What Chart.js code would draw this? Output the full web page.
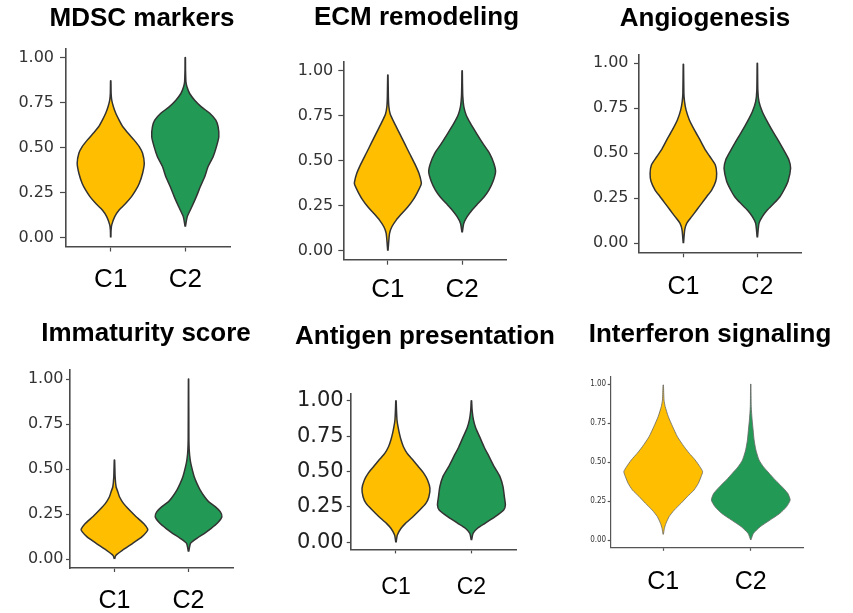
<!DOCTYPE html>
<html>
<head>
<meta charset="utf-8">
<script src="https://cdn.jsdelivr.net/npm/chart.js@4.4.1/dist/chart.umd.min.js"></script>
<style>
  body { margin: 0; background: #fff; width: 853px; height: 613px; position: relative; overflow: hidden; }
  canvas { position: absolute; }
</style>
</head>
<body>
<canvas id="p0"></canvas>
<canvas id="p1"></canvas>
<canvas id="p2"></canvas>
<canvas id="p3"></canvas>
<canvas id="p4"></canvas>
<canvas id="p5"></canvas>
<script>
const titles = ['MDSC markers', 'ECM remodeling', 'Angiogenesis', 'Immaturity score', 'Antigen presentation', 'Interferon signaling'];
const categories = ['C1', 'C2'];
const yTicks = [0, 0.25, 0.5, 0.75, 1];

// violin outlines: [score, relative density], bottom tip to top tip
const mdscC1 = [[0, 0.005], [0.04, 0.01], [0.07, 0.03], [0.116, 0.12], [0.153, 0.25], [0.19, 0.45], [0.227, 0.62], [0.264, 0.75], [0.3, 0.85], [0.357, 0.95], [0.412, 1], [0.468, 0.95], [0.505, 0.85], [0.541, 0.7], [0.579, 0.52], [0.615, 0.36], [0.652, 0.25], [0.69, 0.15], [0.726, 0.08], [0.763, 0.03], [0.8, 0.012], [0.87, 0.005]];
const mdscC2 = [[0.061, 0.005], [0.116, 0.06], [0.172, 0.2], [0.227, 0.33], [0.283, 0.45], [0.338, 0.58], [0.394, 0.68], [0.449, 0.83], [0.505, 0.93], [0.56, 1], [0.615, 0.98], [0.652, 0.91], [0.69, 0.73], [0.726, 0.48], [0.763, 0.28], [0.8, 0.13], [0.837, 0.05], [0.865, 0.02], [0.93, 0.008], [1, 0.005]];
const ecmC1 = [[0, 0.005], [0.096, 0.05], [0.133, 0.12], [0.17, 0.25], [0.207, 0.42], [0.244, 0.6], [0.281, 0.75], [0.319, 0.87], [0.365, 0.99], [0.38, 1], [0.43, 0.93], [0.485, 0.8], [0.54, 0.65], [0.596, 0.5], [0.652, 0.35], [0.707, 0.2], [0.76, 0.07], [0.8, 0.03], [0.856, 0.015], [0.976, 0.005]];
const ecmC2 = [[0.102, 0.005], [0.152, 0.05], [0.189, 0.15], [0.226, 0.3], [0.263, 0.48], [0.3, 0.66], [0.337, 0.8], [0.383, 0.92], [0.439, 1], [0.485, 0.95], [0.541, 0.82], [0.596, 0.62], [0.652, 0.43], [0.707, 0.25], [0.754, 0.12], [0.8, 0.05], [0.856, 0.02], [0.93, 0.01], [1, 0.005]];
const angioC1 = [[0, 0.005], [0.074, 0.04], [0.111, 0.1], [0.148, 0.25], [0.185, 0.4], [0.222, 0.55], [0.259, 0.7], [0.296, 0.85], [0.343, 0.97], [0.389, 1], [0.435, 0.96], [0.481, 0.8], [0.519, 0.66], [0.574, 0.5], [0.63, 0.33], [0.685, 0.18], [0.741, 0.08], [0.787, 0.035], [0.833, 0.015], [0.994, 0.005]];
const angioC2 = [[0.033, 0.005], [0.111, 0.05], [0.148, 0.15], [0.185, 0.3], [0.222, 0.5], [0.259, 0.68], [0.296, 0.8], [0.343, 0.92], [0.417, 1], [0.463, 0.95], [0.509, 0.82], [0.565, 0.65], [0.62, 0.47], [0.676, 0.3], [0.731, 0.15], [0.787, 0.05], [0.852, 0.015], [1, 0.005]];
const immC1 = [[0, 0.005], [0.02, 0.04], [0.05, 0.25], [0.087, 0.55], [0.124, 0.83], [0.152, 0.97], [0.165, 1], [0.198, 0.87], [0.235, 0.65], [0.272, 0.45], [0.309, 0.27], [0.346, 0.15], [0.374, 0.1], [0.4, 0.05], [0.457, 0.02], [0.55, 0.005]];
const immC2 = [[0.041, 0.005], [0.087, 0.06], [0.115, 0.25], [0.143, 0.48], [0.17, 0.68], [0.198, 0.86], [0.235, 1], [0.263, 0.95], [0.291, 0.8], [0.319, 0.6], [0.346, 0.48], [0.383, 0.35], [0.42, 0.25], [0.457, 0.17], [0.513, 0.09], [0.55, 0.05], [0.606, 0.02], [0.68, 0.01], [1, 0.004]];
const antigenC1 = [[0, 0.005], [0.052, 0.04], [0.099, 0.15], [0.134, 0.28], [0.181, 0.5], [0.228, 0.7], [0.275, 0.88], [0.322, 0.97], [0.381, 1], [0.44, 0.93], [0.487, 0.82], [0.534, 0.66], [0.581, 0.5], [0.628, 0.33], [0.675, 0.22], [0.722, 0.15], [0.769, 0.1], [0.816, 0.06], [0.864, 0.03], [0.934, 0.015], [1, 0.005]];
const antigenC2 = [[0.016, 0.005], [0.064, 0.05], [0.099, 0.18], [0.134, 0.4], [0.181, 0.7], [0.228, 0.95], [0.264, 1], [0.322, 0.97], [0.393, 0.93], [0.464, 0.84], [0.534, 0.67], [0.605, 0.52], [0.675, 0.37], [0.746, 0.24], [0.805, 0.13], [0.864, 0.06], [0.934, 0.02], [1, 0.005]];
const ifnC1 = [[0.036, 0.005], [0.075, 0.03], [0.107, 0.07], [0.15, 0.15], [0.192, 0.28], [0.235, 0.45], [0.278, 0.61], [0.32, 0.78], [0.363, 0.89], [0.406, 0.96], [0.438, 1], [0.47, 0.93], [0.513, 0.81], [0.556, 0.66], [0.598, 0.53], [0.662, 0.36], [0.726, 0.24], [0.79, 0.13], [0.855, 0.05], [0.897, 0.02], [0.994, 0.005]];
const ifnC2 = [[0, 0.004], [0.043, 0.07], [0.085, 0.24], [0.128, 0.49], [0.171, 0.74], [0.214, 0.91], [0.256, 1], [0.299, 0.94], [0.342, 0.79], [0.385, 0.62], [0.427, 0.47], [0.47, 0.32], [0.513, 0.21], [0.577, 0.13], [0.641, 0.085], [0.705, 0.06], [0.769, 0.035], [0.855, 0.012], [1, 0.004]];

const violins = [[mdscC1, mdscC2], [ecmC1, ecmC2], [angioC1, angioC2], [immC1, immC2], [antigenC1, antigenC2], [ifnC1, ifnC2]];

const yellow = '#FFBF00';
const green = '#239956';
const halfWidth = 0.45;

// placement of each panel on the page
const frames = [
  {left: 0, top: 0, w: 284, h: 310, yW: 66, rW: 54, tTop: 3.5, tBottom: 13.8, xH: 63.5, xTick: 5, xPad: 13.2, xFont: 26, yTick: 6, yPad: 6, yFont: 16},
  {left: 273, top: 0, w: 287, h: 310, yW: 70.3, rW: 53.3, tTop: 2.5, tBottom: 28, xH: 50.3, xTick: 5, xPad: 9.2, xFont: 26, yTick: 5, yPad: 5, yFont: 16},
  {left: 575, top: 0, w: 260, h: 310, yW: 64, rW: 33.3, tTop: 3.5, tBottom: 19.6, xH: 57.7, xTick: 5, xPad: 15.3, xFont: 25, yTick: 5, yPad: 5.5, yFont: 16},
  {left: 0, top: 300, w: 292, h: 313, yW: 70, rW: 59, tTop: 18.2, tBottom: 20.6, xH: 45, xTick: 4, xPad: 14, xFont: 25, yTick: 4, yPad: 2.5, yFont: 16},
  {left: 290, top: 300, w: 270, h: 313, yW: 60.7, rW: 43.3, tTop: 20.8, tBottom: 41.6, xH: 63.6, xTick: 4, xPad: 20, xFont: 23, yTick: 4, yPad: 3, yFont: 21},
  {left: 567, top: 300, w: 286, h: 313, yW: 43.7, rW: 49.7, tTop: 19.2, tBottom: 25.8, xH: 65.2, xTick: 3, xPad: 16.2, xFont: 25, yTick: 3, yPad: 1.5, yFont: 8}
];

function outline(profile, center) {
  const right = profile.map(([v, d]) => ({x: center + d * halfWidth, y: v}));
  const left = profile.slice().reverse().map(([v, d]) => ({x: center - d * halfWidth, y: v}));
  return right.concat(left);
}

Chart.defaults.font.family = '"Liberation Sans", Arial, sans-serif';

frames.forEach((f, i) => {
  const canvas = document.getElementById('p' + i);
  canvas.width = f.w;
  canvas.height = f.h;
  canvas.style.left = f.left + 'px';
  canvas.style.top = f.top + 'px';

  const last = i === 5;
  const edge = last ? '#666' : '#333';
  const lineW = last ? 0.8 : 1.5;
  const axisColor = last ? '#555' : '#4a4a4a';
  const yFontFamily = last ? '"Liberation Sans Narrow", "DejaVu Sans Condensed", sans-serif' : '"DejaVu Sans", sans-serif';

  const datasets = violins[i].map((profile, k) => ({
    data: outline(profile, k + 1),
    showLine: true,
    fill: 'shape',
    tension: 0.2,
    pointRadius: 0,
    backgroundColor: k === 0 ? yellow : green,
    borderColor: edge,
    borderWidth: lineW
  }));

  new Chart(canvas, {
    type: 'scatter',
    data: {datasets: datasets},
    options: {
      responsive: false,
      animation: false,
      devicePixelRatio: 1,
      layout: {padding: 0},
      plugins: {
        legend: {display: false},
        tooltip: {enabled: false},
        title: {
          display: true,
          text: titles[i],
          color: '#000',
          font: {size: 26, weight: 'bold'},
          padding: {top: f.tTop, bottom: f.tBottom}
        }
      },
      scales: {
        x: {
          type: 'linear',
          min: 0.4,
          max: 2.6,
          afterBuildTicks: s => { s.ticks = categories.map((c, k) => ({value: k + 1})); },
          afterFit: s => { s.height = f.xH; },
          ticks: {
            callback: v => categories[Math.round(v) - 1],
            color: '#000',
            font: {size: f.xFont},
            padding: f.xPad,
            maxRotation: 0,
            autoSkip: false
          },
          grid: {drawOnChartArea: false, tickLength: f.xTick, tickColor: axisColor, tickWidth: 1.2},
          border: {color: axisColor, width: last ? 1.2 : 1.6}
        },
        y: {
          min: -0.05,
          max: 1.05,
          afterBuildTicks: s => { s.ticks = yTicks.map(v => ({value: v})); },
          afterFit: s => { s.width = f.yW; },
          ticks: {
            callback: v => v.toFixed(2),
            color: i === 4 ? '#222' : '#333',
            font: {size: f.yFont, family: yFontFamily},
            padding: f.yPad
          },
          grid: {drawOnChartArea: false, tickLength: f.yTick, tickColor: axisColor, tickWidth: 1.2},
          border: {color: axisColor, width: last ? 1.2 : 1.6}
        },
        spacer: {
          position: 'right',
          grid: {display: false},
          border: {display: false},
          ticks: {display: false},
          afterFit: s => { s.width = f.rW; }
        }
      }
    }
  });
});
</script>
</body>
</html>
